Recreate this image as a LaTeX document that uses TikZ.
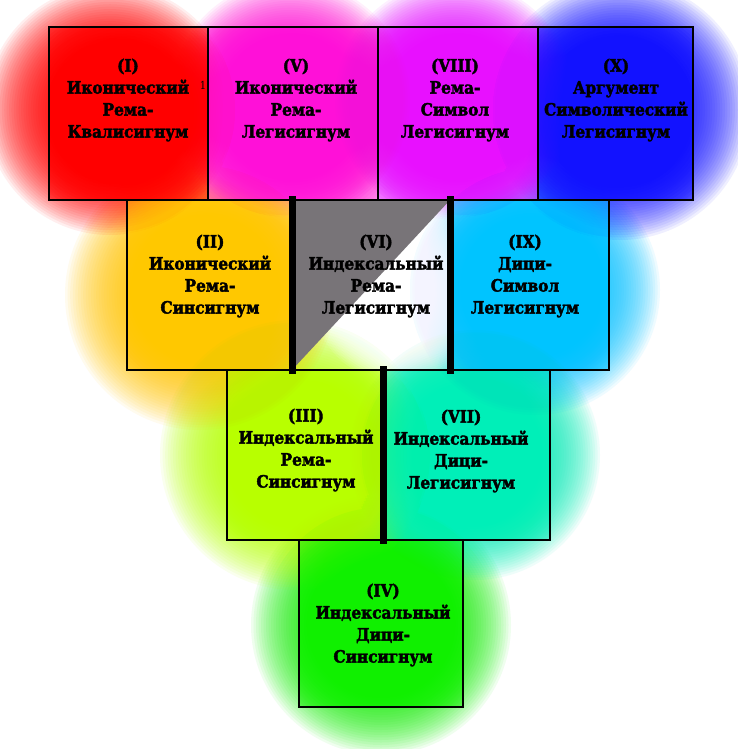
\documentclass[tikz,border=0pt]{standalone}
\usepackage{fontspec}
\setmainfont{DejaVu Serif Condensed}
\newfontfamily\cellfont[FakeBold=2.2]{DejaVu Serif Condensed}
\usetikzlibrary{backgrounds}
\definecolor{cI}{HTML}{FF0000}
\definecolor{cV}{HTML}{FF10D8}
\definecolor{cVIII}{HTML}{E810FF}
\definecolor{cX}{HTML}{1212FF}
\definecolor{cII}{HTML}{FFC800}
\definecolor{cVI}{HTML}{787478}
\definecolor{cIX}{HTML}{00C4FF}
\definecolor{cIII}{HTML}{B8FF00}
\definecolor{cVII}{HTML}{00EFB8}
\definecolor{cIV}{HTML}{10F000}
\newcommand{\myglow}[5]{\foreach \k in {0,...,39}{\fill[#1, opacity=#5] (#2) circle ({#3*(1-#4*\k/39)});}}
\tikzset{
  cell/.style={draw=black, line width=1.8pt, inner sep=0pt, rectangle},
  celltext/.style={font=\cellfont\bfseries\fontsize{17}{22}\selectfont, align=center, inner sep=0pt},
  thickdiv/.style={line width=7pt, line cap=rect}
}
\begin{document}
\begin{tikzpicture}[x=1pt,y=-1pt]
\useasboundingbox (0,0) rectangle (737,749);
% cells
\node[cell, minimum width=159pt, minimum height=173pt] (I) at (128.5,113.5) {};
\node[cell, minimum width=170pt, minimum height=173pt] (V) at (293,113.5) {};
\node[cell, minimum width=160pt, minimum height=173pt] (VIII) at (458,113.5) {};
\node[cell, minimum width=155pt, minimum height=173pt] (X) at (615.5,113.5) {};
\node[cell, minimum width=165pt, minimum height=170pt] (II) at (209.5,285) {};
\node[cell, minimum width=158pt, minimum height=170pt] (VI) at (371,285) {};
\node[cell, minimum width=159pt, minimum height=170pt] (IX) at (529.5,285) {};
\node[cell, minimum width=156pt, minimum height=170pt] (III) at (305,455) {};
\node[cell, minimum width=167pt, minimum height=170pt] (VII) at (466.5,455) {};
\node[cell, minimum width=164pt, minimum height=167pt] (IV) at (381,623.5) {};
% colours
\begin{scope}[on background layer]
\fill[white] (0,0) rectangle (737,749);
% outer halos
\myglow{cIV}{381,625}{130}{0.75}{0.065}
\myglow{cVII}{475,455}{125}{0.75}{0.065}
\myglow{cIII}{295,455}{135}{0.75}{0.065}
\myglow{cIX}{535,290}{125}{0.75}{0.065}
\myglow{cII}{200,295}{135}{0.75}{0.065}
\myglow{cX}{620,110}{130}{0.75}{0.065}
\myglow{cVIII}{455,100}{120}{0.75}{0.065}
\myglow{cV}{290,100}{120}{0.75}{0.065}
\myglow{cI}{110,110}{125}{0.75}{0.065}
% per-cell colour
\begin{scope}\clip (I.south west) rectangle (I.north east);
\myglow{cI}{I.center}{140}{0.8}{0.085}\end{scope}
\begin{scope}\clip (V.south west) rectangle (V.north east);
\myglow{cV}{V.center}{140}{0.8}{0.085}\end{scope}
\begin{scope}\clip (VIII.south west) rectangle (VIII.north east);
\myglow{cVIII}{VIII.center}{140}{0.8}{0.085}\end{scope}
\begin{scope}\clip (X.south west) rectangle (X.north east);
\myglow{cX}{X.center}{140}{0.8}{0.085}\end{scope}
\begin{scope}\clip (II.south west) rectangle (II.north east);
\myglow{cII}{II.center}{135}{0.8}{0.085}\end{scope}
\begin{scope}\clip (IX.south west) rectangle (IX.north east);
\myglow{cIX}{IX.center}{135}{0.8}{0.085}\end{scope}
\begin{scope}\clip (III.south west) rectangle (III.north east);
\myglow{cIII}{III.center}{135}{0.8}{0.085}\end{scope}
\begin{scope}\clip (VII.south west) rectangle (VII.north east);
\myglow{cVII}{VII.center}{135}{0.8}{0.085}\end{scope}
\begin{scope}\clip (IV.south west) rectangle (IV.north east);
\myglow{cIV}{IV.center}{135}{0.8}{0.085}\end{scope}
\begin{scope}\clip (VI.south west) rectangle (VI.north east);
\myglow{white}{405,290}{95}{0.8}{0.085}\end{scope}
\fill[cVI] (VI.south west) -- (VI.north west) -- (VI.north east) -- cycle;
\end{scope}
% thick dividers
\draw[thickdiv] (II.north east) -- (II.south east);
\draw[thickdiv] (VI.north east) -- (VI.south east);
\draw[thickdiv] (III.north east) -- (III.south east);
% texts
\node[celltext] (tI) at (128,100) {(I)\\Иконический\\Рема-\\Квалисигнум};
\node[font=\fontsize{11}{11}\selectfont, inner sep=0pt] (one) at (203,85) {1};
\node[celltext] (tV) at (296,100) {(V)\\Иконический\\Рема-\\Легисигнум};
\node[celltext] (tVIII) at (455,100) {(VIII)\\Рема-\\Символ\\Легисигнум};
\node[celltext] (tX) at (616,100) {(X)\\Аргумент\\Символический\\Легисигнум};
\node[celltext] (tII) at (210,276) {(II)\\Иконический\\Рема-\\Синсигнум};
\node[celltext] (tVI) at (376,276) {(VI)\\Индексальный\\Рема-\\Легисигнум};
\node[celltext] (tIX) at (525,276) {(IX)\\Дици-\\Символ\\Легисигнум};
\node[celltext] (tIII) at (306,450) {(III)\\Индексальный\\Рема-\\Синсигнум};
\node[celltext] (tVII) at (461,451) {(VII)\\Индексальный\\Дици-\\Легисигнум};
\node[celltext] (tIV) at (383,625) {(IV)\\Индексальный\\Дици-\\Синсигнум};
\end{tikzpicture}
\end{document}
